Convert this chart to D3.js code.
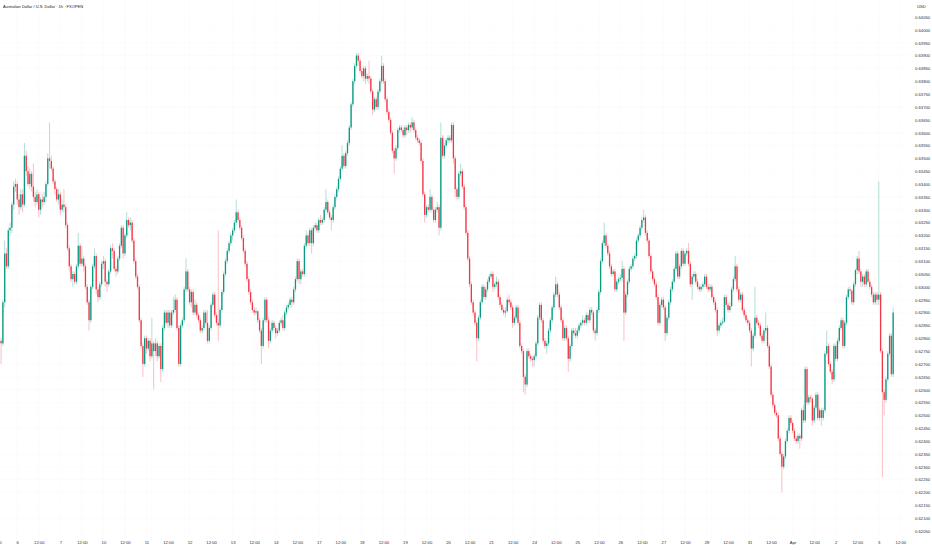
<!DOCTYPE html>
<html>
<head>
<meta charset="utf-8">
<script src="https://cdn.jsdelivr.net/npm/d3@7"></script>
<style>
  html, body { margin: 0; padding: 0; background: #fff; }
  svg { display: block; font-family: "Liberation Sans", Arial, sans-serif; }
</style>
</head>
<body>
<svg id="chart"></svg>
<script>
// Chart size
const w = 932;
const h = 550;

const title = "Australian Dollar / U.S. Dollar · 1h · FXOPEN";
const currency = "USD";

// hourly bars (oldest first)
const opens = [
  0.6279, 0.6278, 0.6294, 0.6313, 0.6308, 0.6322, 0.6323, 0.6332, 0.6339, 0.6340,
  0.6334, 0.6331, 0.6336, 0.6332, 0.6351, 0.6345, 0.6340, 0.6344, 0.6339, 0.6335,
  0.6333, 0.6336, 0.6330, 0.6334, 0.6333, 0.6335, 0.6340, 0.6350, 0.6349, 0.6346,
  0.6341, 0.6338, 0.6334, 0.6336, 0.6330, 0.6332, 0.6331, 0.6324, 0.6315, 0.6308,
  0.6303, 0.6305, 0.6302, 0.6308, 0.6316, 0.6309, 0.6311, 0.6308, 0.6300, 0.6294,
  0.6287, 0.6300, 0.6308, 0.6312, 0.6299, 0.6296, 0.6301, 0.6309, 0.6310, 0.6302,
  0.6301, 0.6306, 0.6315, 0.6314, 0.6307, 0.6306, 0.6311, 0.6316, 0.6323, 0.6313,
  0.6320, 0.6326, 0.6324, 0.6325, 0.6318, 0.6310, 0.6304, 0.6300, 0.6287, 0.6277,
  0.6270, 0.6280, 0.6276, 0.6279, 0.6273, 0.6278, 0.6275, 0.6278, 0.6273, 0.6277,
  0.6268, 0.6284, 0.6290, 0.6286, 0.6290, 0.6285, 0.6290, 0.6291, 0.6295, 0.6284,
  0.6270, 0.6285, 0.6287, 0.6299, 0.6306, 0.6299, 0.6294, 0.6298, 0.6290, 0.6293,
  0.6289, 0.6287, 0.6283, 0.6284, 0.6290, 0.6286, 0.6279, 0.6284, 0.6293, 0.6297,
  0.6289, 0.6286, 0.6285, 0.6291, 0.6298, 0.6305, 0.6310, 0.6314, 0.6317, 0.6320,
  0.6322, 0.6325, 0.6329, 0.6326, 0.6323, 0.6319, 0.6314, 0.6309, 0.6303, 0.6298,
  0.6294, 0.6291, 0.6290, 0.62905, 0.6287, 0.6283, 0.6277, 0.6287, 0.6295, 0.6287,
  0.6279, 0.6283, 0.6286, 0.6284, 0.6282, 0.6283, 0.6286, 0.6287, 0.6284, 0.6290,
  0.6292, 0.6293, 0.6295, 0.6294, 0.6299, 0.6303, 0.6310, 0.6303, 0.6306, 0.6305,
  0.6316, 0.6320, 0.6317, 0.6322, 0.6317, 0.6323, 0.6324, 0.6322, 0.6326, 0.6325,
  0.6326, 0.6330, 0.6333, 0.6329, 0.6327, 0.6326, 0.6331, 0.6335, 0.6338, 0.6342,
  0.6346, 0.6351, 0.6347, 0.6352, 0.6356, 0.6362, 0.6371, 0.6380, 0.6386, 0.6390,
  0.6388, 0.6384, 0.6382, 0.6385, 0.6381, 0.6382, 0.6381, 0.6376, 0.6369, 0.6373,
  0.6370, 0.6376, 0.6380, 0.6386, 0.6380, 0.6373, 0.6368, 0.6365, 0.6360, 0.6353,
  0.6350, 0.6354, 0.6361, 0.6362, 0.6361, 0.6359, 0.6362, 0.6361, 0.6363, 0.6362,
  0.6364, 0.6361, 0.6358, 0.6357, 0.6356, 0.6349, 0.6336, 0.6328, 0.6331, 0.6330,
  0.6335, 0.6330, 0.6326, 0.6330, 0.6331, 0.6323, 0.6358, 0.6351, 0.6355, 0.6357,
  0.6358, 0.6357, 0.6363, 0.6350, 0.6338, 0.6335, 0.6344, 0.6345, 0.6339, 0.6331,
  0.6321, 0.6311, 0.6301, 0.6294, 0.6290, 0.6286, 0.6280, 0.6288, 0.6294, 0.6300,
  0.6296, 0.6299, 0.6302, 0.6304, 0.6305, 0.6300, 0.6301, 0.6302, 0.6296, 0.6293,
  0.6291, 0.6290, 0.62905, 0.6295, 0.6294, 0.6292, 0.6286, 0.6288, 0.6292, 0.6286,
  0.6277, 0.6275, 0.6265, 0.6262, 0.6275, 0.6273, 0.6272, 0.62715, 0.6273, 0.6278,
  0.6288, 0.6293, 0.6287, 0.6279, 0.6277, 0.6278, 0.6283, 0.6287, 0.6292, 0.6297,
  0.6301, 0.6297, 0.6292, 0.6287, 0.6280, 0.6284, 0.6280, 0.6272, 0.6277, 0.6283,
  0.6282, 0.6281, 0.6283, 0.6285, 0.6286, 0.6287, 0.6286, 0.6289, 0.6287, 0.6291,
  0.6290, 0.6283, 0.6282, 0.6291, 0.6298, 0.6310, 0.6317, 0.6320, 0.6316, 0.6313,
  0.6308, 0.6305, 0.6306, 0.6299, 0.6302, 0.6303, 0.63035, 0.6307, 0.6290, 0.6297,
  0.6302, 0.6307, 0.6308, 0.6311, 0.6312, 0.6318, 0.6320, 0.6323, 0.6326, 0.6327,
  0.6321, 0.6318, 0.6312, 0.6306, 0.6303, 0.6301, 0.6296, 0.6286, 0.6293, 0.6295,
  0.6292, 0.6282, 0.6288, 0.6294, 0.6299, 0.6302, 0.6307, 0.6313, 0.6304, 0.6308,
  0.6314, 0.6309, 0.6313, 0.6314, 0.6309, 0.6301, 0.6304, 0.6305, 0.6302, 0.6300,
  0.6299, 0.6300, 0.6301, 0.6304, 0.6300, 0.6299, 0.6300, 0.6296, 0.6294, 0.6291,
  0.6283, 0.6285, 0.6286, 0.62865, 0.6296, 0.6293, 0.6291, 0.62925, 0.6299, 0.6303,
  0.6308, 0.6299, 0.6295, 0.6297, 0.6291, 0.6289, 0.6287, 0.6286, 0.6283, 0.6276,
  0.6281, 0.6288, 0.6286, 0.6285, 0.6281, 0.6279, 0.6283, 0.6284, 0.6277, 0.6269,
  0.6258, 0.6254, 0.6251, 0.6250, 0.6241, 0.6235, 0.6230, 0.6234, 0.6240, 0.6244,
  0.6249, 0.6247, 0.6244, 0.6241, 0.6240, 0.6242, 0.6241, 0.6252, 0.6248, 0.6268,
  0.6255, 0.6257, 0.62565, 0.6248, 0.6253, 0.6258, 0.6249, 0.6252, 0.6249, 0.6252,
  0.6274, 0.6277, 0.6270, 0.6267, 0.6264, 0.6277, 0.6272, 0.6279, 0.6284, 0.6287,
  0.6277, 0.6286, 0.6296, 0.6299, 0.62985, 0.6294, 0.6301, 0.63065, 0.6311, 0.6306,
  0.6302, 0.6304, 0.6301, 0.6306, 0.6302, 0.6300, 0.6297, 0.6294, 0.6297, 0.6295,
  0.6297, 0.6275, 0.6259, 0.6256, 0.6264, 0.6274, 0.6281, 0.6266
];

const highs = [
  0.6280, 0.6295, 0.6318, 0.6315, 0.6323, 0.6325, 0.6333, 0.6341, 0.6342, 0.6341,
  0.6336, 0.6338, 0.6338, 0.6356, 0.6353, 0.6347, 0.6346, 0.6345, 0.6348, 0.6337,
  0.6338, 0.6337, 0.6335, 0.6336, 0.6337, 0.6341, 0.6352, 0.6364, 0.6351, 0.6347,
  0.6342, 0.6339, 0.6338, 0.6337, 0.6334, 0.6338, 0.6332, 0.6325, 0.6316, 0.6309,
  0.6306, 0.6306, 0.6309, 0.6321, 0.6317, 0.6316, 0.6312, 0.6309, 0.6301, 0.6295,
  0.6301, 0.6309, 0.6315, 0.6313, 0.6300, 0.6302, 0.6310, 0.6312, 0.6311, 0.6303,
  0.6307, 0.6316, 0.6317, 0.6315, 0.6308, 0.6312, 0.6317, 0.6324, 0.6324, 0.6321,
  0.6329, 0.6327, 0.6327, 0.6326, 0.6319, 0.6311, 0.6305, 0.6301, 0.6288, 0.6278,
  0.6281, 0.6281, 0.6280, 0.6280, 0.6288, 0.6279, 0.6280, 0.6279, 0.6278, 0.6278,
  0.6285, 0.6291, 0.6291, 0.6291, 0.6291, 0.6291, 0.6296, 0.6297, 0.6296, 0.6285,
  0.6286, 0.6288, 0.6300, 0.6311, 0.6307, 0.6300, 0.6299, 0.6299, 0.6295, 0.6294,
  0.6290, 0.6288, 0.6285, 0.6291, 0.6291, 0.6291, 0.6285, 0.6294, 0.6298, 0.6298,
  0.6290, 0.6322, 0.6292, 0.6299, 0.6306, 0.6311, 0.6315, 0.6318, 0.6321, 0.6323,
  0.6326, 0.6334, 0.6330, 0.6327, 0.6324, 0.6320, 0.6315, 0.6310, 0.6304, 0.6299,
  0.6295, 0.6292, 0.6292, 0.6291, 0.6288, 0.6284, 0.6288, 0.6296, 0.6296, 0.6288,
  0.6284, 0.6287, 0.6287, 0.6285, 0.6284, 0.6287, 0.6288, 0.6289, 0.6291, 0.6293,
  0.6294, 0.6296, 0.6296, 0.6300, 0.6304, 0.6311, 0.6311, 0.6307, 0.6307, 0.6317,
  0.6322, 0.6321, 0.6323, 0.6323, 0.6324, 0.6325, 0.6325, 0.6327, 0.6328, 0.6327,
  0.6331, 0.6338, 0.6334, 0.6330, 0.6328, 0.6332, 0.6336, 0.6339, 0.6343, 0.6347,
  0.6355, 0.6352, 0.6353, 0.6357, 0.6363, 0.6372, 0.6381, 0.6387, 0.6391, 0.6391,
  0.6389, 0.6385, 0.6386, 0.6386, 0.6383, 0.6388, 0.6382, 0.6377, 0.6374, 0.6374,
  0.6377, 0.6381, 0.6390, 0.6387, 0.6381, 0.6374, 0.6369, 0.6366, 0.6361, 0.6354,
  0.6355, 0.6362, 0.6363, 0.6363, 0.6362, 0.6363, 0.6363, 0.6364, 0.6364, 0.6366,
  0.6365, 0.6362, 0.6359, 0.6358, 0.6357, 0.6350, 0.6337, 0.6332, 0.6332, 0.6338,
  0.6336, 0.6331, 0.6331, 0.6333, 0.6332, 0.6364, 0.6359, 0.6356, 0.6358, 0.6359,
  0.6359, 0.6364, 0.6364, 0.6351, 0.6339, 0.6345, 0.6348, 0.6346, 0.6340, 0.6332,
  0.6322, 0.6312, 0.6302, 0.6295, 0.6291, 0.6287, 0.6289, 0.6295, 0.6301, 0.6301,
  0.6300, 0.6303, 0.6305, 0.6306, 0.6306, 0.6302, 0.6304, 0.6303, 0.6297, 0.6294,
  0.6292, 0.6292, 0.6296, 0.6297, 0.6295, 0.6293, 0.6289, 0.6293, 0.6293, 0.6287,
  0.6278, 0.6276, 0.6266, 0.6276, 0.6276, 0.6274, 0.6273, 0.6274, 0.6279, 0.6289,
  0.6294, 0.6294, 0.6288, 0.6280, 0.6279, 0.6284, 0.6288, 0.6293, 0.6298, 0.6304,
  0.6302, 0.6298, 0.6293, 0.6288, 0.6285, 0.6285, 0.6281, 0.6278, 0.6284, 0.6284,
  0.6284, 0.6284, 0.6286, 0.6287, 0.6289, 0.6288, 0.6290, 0.6290, 0.6292, 0.6292,
  0.6291, 0.6284, 0.6292, 0.6299, 0.6311, 0.6318, 0.6325, 0.6321, 0.6317, 0.6314,
  0.6309, 0.6307, 0.6307, 0.6303, 0.6304, 0.6305, 0.6310, 0.6308, 0.6298, 0.6303,
  0.6308, 0.6309, 0.6312, 0.6313, 0.6319, 0.6321, 0.6324, 0.6327, 0.6330, 0.6328,
  0.6322, 0.6319, 0.6313, 0.6307, 0.6304, 0.6302, 0.6297, 0.6294, 0.6296, 0.6296,
  0.6293, 0.6289, 0.6295, 0.6300, 0.6303, 0.6308, 0.6314, 0.6314, 0.6309, 0.6315,
  0.6315, 0.6314, 0.6315, 0.6317, 0.6310, 0.6305, 0.6306, 0.6306, 0.6303, 0.6301,
  0.6301, 0.6302, 0.6305, 0.6305, 0.6301, 0.6301, 0.6301, 0.6297, 0.6295, 0.6292,
  0.6286, 0.6287, 0.6288, 0.6297, 0.6297, 0.6294, 0.6294, 0.6300, 0.6304, 0.6312,
  0.6309, 0.6300, 0.6298, 0.6298, 0.6292, 0.6290, 0.6288, 0.6287, 0.6284, 0.6282,
  0.6300, 0.6289, 0.6287, 0.6286, 0.6282, 0.6284, 0.6290, 0.6285, 0.6278, 0.6270,
  0.6259, 0.6255, 0.6252, 0.6251, 0.6242, 0.6236, 0.6235, 0.6241, 0.6245, 0.6250,
  0.6250, 0.6248, 0.6245, 0.6242, 0.6243, 0.6243, 0.6253, 0.6254, 0.6269, 0.6269,
  0.6258, 0.6258, 0.6257, 0.6254, 0.6259, 0.6259, 0.6253, 0.6253, 0.6253, 0.6275,
  0.6283, 0.6278, 0.6271, 0.6268, 0.6278, 0.6278, 0.6280, 0.6285, 0.6288, 0.6288,
  0.6287, 0.6297, 0.6300, 0.6300, 0.6299, 0.6302, 0.6307, 0.6312, 0.6314, 0.6307,
  0.6305, 0.6305, 0.6307, 0.6307, 0.6303, 0.6301, 0.6298, 0.6298, 0.6298, 0.6341,
  0.6298, 0.6276, 0.6260, 0.6265, 0.6275, 0.6282, 0.6282, 0.6292
];

const lows = [
  0.6270, 0.6277, 0.6292, 0.6307, 0.6307, 0.6320, 0.6321, 0.6330, 0.6337, 0.6332,
  0.6328, 0.6330, 0.6329, 0.6331, 0.6343, 0.6339, 0.6338, 0.6337, 0.6333, 0.6331,
  0.6332, 0.6327, 0.6328, 0.6331, 0.6332, 0.6333, 0.6339, 0.6346, 0.6345, 0.6340,
  0.6336, 0.6333, 0.6332, 0.6328, 0.6329, 0.6329, 0.6323, 0.6314, 0.6306, 0.6302,
  0.6300, 0.6301, 0.6301, 0.6307, 0.6308, 0.6308, 0.6306, 0.6299, 0.6293, 0.6283,
  0.6286, 0.6299, 0.6307, 0.6297, 0.6294, 0.6295, 0.6300, 0.6307, 0.6300, 0.6298,
  0.6300, 0.6305, 0.6311, 0.6306, 0.6304, 0.6305, 0.6310, 0.6315, 0.6311, 0.6312,
  0.6319, 0.6323, 0.6322, 0.6317, 0.6309, 0.6303, 0.6299, 0.6286, 0.6276, 0.6265,
  0.6269, 0.6274, 0.6275, 0.6271, 0.6272, 0.6260, 0.6273, 0.6271, 0.6272, 0.6263,
  0.6267, 0.6283, 0.6285, 0.6284, 0.6284, 0.6284, 0.6289, 0.6290, 0.6283, 0.6269,
  0.6269, 0.6284, 0.6286, 0.6298, 0.6298, 0.6293, 0.6292, 0.6289, 0.6289, 0.6288,
  0.6286, 0.6282, 0.6282, 0.6283, 0.6285, 0.6278, 0.6278, 0.6283, 0.6292, 0.6288,
  0.6285, 0.6279, 0.6284, 0.6290, 0.6297, 0.6304, 0.6309, 0.6313, 0.6316, 0.6318,
  0.6321, 0.6324, 0.6325, 0.6322, 0.6318, 0.6313, 0.6308, 0.6302, 0.6297, 0.6293,
  0.6290, 0.6289, 0.6289, 0.6286, 0.6282, 0.6270, 0.6276, 0.6286, 0.6286, 0.6276,
  0.6278, 0.6282, 0.6283, 0.6280, 0.6281, 0.6282, 0.6285, 0.6283, 0.6283, 0.6289,
  0.6291, 0.6292, 0.6292, 0.6293, 0.6298, 0.6302, 0.6301, 0.6301, 0.6304, 0.6304,
  0.6315, 0.6316, 0.6316, 0.6313, 0.6316, 0.6322, 0.6321, 0.6321, 0.6324, 0.6324,
  0.6325, 0.6329, 0.6328, 0.6326, 0.6322, 0.6325, 0.6330, 0.6334, 0.6337, 0.6341,
  0.6345, 0.6346, 0.6346, 0.6351, 0.6355, 0.6361, 0.6370, 0.6379, 0.6385, 0.6386,
  0.6383, 0.6381, 0.6380, 0.6379, 0.6380, 0.6379, 0.6375, 0.6367, 0.6368, 0.6369,
  0.6369, 0.6375, 0.6379, 0.6379, 0.6372, 0.6367, 0.6364, 0.6359, 0.6352, 0.6344,
  0.6349, 0.6353, 0.6360, 0.6360, 0.6358, 0.6358, 0.6359, 0.6360, 0.6360, 0.6361,
  0.6360, 0.6357, 0.6356, 0.6355, 0.6348, 0.6335, 0.6325, 0.6327, 0.6329, 0.6329,
  0.6329, 0.6325, 0.6325, 0.6329, 0.6320, 0.6322, 0.6350, 0.6350, 0.6354, 0.6356,
  0.6356, 0.6356, 0.6348, 0.6335, 0.6334, 0.6334, 0.6343, 0.6338, 0.6330, 0.6320,
  0.6310, 0.6300, 0.6293, 0.6289, 0.6285, 0.6271, 0.6279, 0.6287, 0.6293, 0.6295,
  0.6295, 0.6298, 0.6301, 0.6303, 0.6298, 0.6299, 0.6300, 0.6295, 0.6292, 0.6290,
  0.6289, 0.6288, 0.6290, 0.6293, 0.6291, 0.6284, 0.6285, 0.6287, 0.6285, 0.6276,
  0.6274, 0.6259, 0.6258, 0.6261, 0.6272, 0.6271, 0.6269, 0.6269, 0.6272, 0.6277,
  0.6287, 0.6286, 0.6278, 0.6276, 0.6274, 0.6277, 0.6282, 0.6286, 0.6291, 0.6296,
  0.6296, 0.6291, 0.6286, 0.6279, 0.6279, 0.6279, 0.6267, 0.6271, 0.6276, 0.6281,
  0.6280, 0.6280, 0.6282, 0.6284, 0.6285, 0.6285, 0.6285, 0.6286, 0.6286, 0.6289,
  0.6282, 0.6279, 0.6281, 0.6290, 0.6297, 0.6309, 0.6316, 0.6315, 0.6312, 0.6307,
  0.6304, 0.6304, 0.6298, 0.6298, 0.6301, 0.6302, 0.6302, 0.6279, 0.6289, 0.6296,
  0.6301, 0.6306, 0.6307, 0.6310, 0.6311, 0.6317, 0.6319, 0.6322, 0.6325, 0.6320,
  0.6317, 0.6311, 0.6305, 0.6302, 0.6300, 0.6295, 0.6285, 0.6285, 0.6292, 0.6291,
  0.6279, 0.6281, 0.6287, 0.6293, 0.6298, 0.6301, 0.6306, 0.6303, 0.6303, 0.6307,
  0.6308, 0.6308, 0.6312, 0.6308, 0.6300, 0.6295, 0.6303, 0.6301, 0.6299, 0.6298,
  0.6298, 0.6299, 0.6300, 0.6299, 0.6298, 0.6298, 0.6295, 0.6293, 0.6290, 0.6281,
  0.6282, 0.6284, 0.6285, 0.6286, 0.6292, 0.6290, 0.6290, 0.6292, 0.6298, 0.6302,
  0.6298, 0.6294, 0.6294, 0.6290, 0.6288, 0.6286, 0.6285, 0.6282, 0.6269, 0.6275,
  0.6280, 0.6285, 0.6284, 0.6280, 0.6278, 0.6278, 0.6282, 0.6276, 0.6268, 0.6257,
  0.6253, 0.6250, 0.6249, 0.6240, 0.6234, 0.6220, 0.6229, 0.6233, 0.6239, 0.6243,
  0.6246, 0.6243, 0.6240, 0.6239, 0.6239, 0.6237, 0.6240, 0.6247, 0.6247, 0.6254,
  0.6254, 0.6255, 0.6246, 0.6247, 0.6252, 0.6248, 0.6248, 0.6246, 0.6248, 0.6251,
  0.6273, 0.6269, 0.6266, 0.6262, 0.6263, 0.6271, 0.6271, 0.6278, 0.6283, 0.6276,
  0.6276, 0.6285, 0.6295, 0.6297, 0.6293, 0.6293, 0.6300, 0.6305, 0.6305, 0.6300,
  0.6300, 0.6300, 0.6300, 0.6301, 0.6299, 0.6296, 0.6293, 0.6293, 0.6293, 0.6293,
  0.6274, 0.6226, 0.6250, 0.6255, 0.6263, 0.6273, 0.6265, 0.6265
];

const closes = [
  0.6278, 0.6294, 0.6313, 0.6308, 0.6322, 0.6323, 0.6332, 0.6339, 0.6340, 0.6334,
  0.6331, 0.6336, 0.6332, 0.6351, 0.6345, 0.6340, 0.6344, 0.6339, 0.6335, 0.6333,
  0.6336, 0.6330, 0.6334, 0.6333, 0.6335, 0.6340, 0.6350, 0.6349, 0.6346, 0.6341,
  0.6338, 0.6334, 0.6336, 0.6330, 0.6332, 0.6331, 0.6324, 0.6315, 0.6308, 0.6303,
  0.6305, 0.6302, 0.6308, 0.6316, 0.6309, 0.6311, 0.6308, 0.6300, 0.6294, 0.6287,
  0.6300, 0.6308, 0.6312, 0.6299, 0.6296, 0.6301, 0.6309, 0.6310, 0.6302, 0.6301,
  0.6306, 0.6315, 0.6314, 0.6307, 0.6306, 0.6311, 0.6316, 0.6323, 0.6313, 0.6320,
  0.6326, 0.6324, 0.6325, 0.6318, 0.6310, 0.6304, 0.6300, 0.6287, 0.6277, 0.6270,
  0.6280, 0.6276, 0.6279, 0.6273, 0.6278, 0.6275, 0.6278, 0.6273, 0.6277, 0.6268,
  0.6284, 0.6290, 0.6286, 0.6290, 0.6285, 0.6290, 0.6291, 0.6295, 0.6284, 0.6270,
  0.6285, 0.6287, 0.6299, 0.6306, 0.6299, 0.6294, 0.6298, 0.6290, 0.6293, 0.6289,
  0.6287, 0.6283, 0.6284, 0.6290, 0.6286, 0.6279, 0.6284, 0.6293, 0.6297, 0.6289,
  0.6286, 0.6285, 0.6291, 0.6298, 0.6305, 0.6310, 0.6314, 0.6317, 0.6320, 0.6322,
  0.6325, 0.6329, 0.6326, 0.6323, 0.6319, 0.6314, 0.6309, 0.6303, 0.6298, 0.6294,
  0.6291, 0.6290, 0.62905, 0.6287, 0.6283, 0.6277, 0.6287, 0.6295, 0.6287, 0.6279,
  0.6283, 0.6286, 0.6284, 0.6282, 0.6283, 0.6286, 0.6287, 0.6284, 0.6290, 0.6292,
  0.6293, 0.6295, 0.6294, 0.6299, 0.6303, 0.6310, 0.6303, 0.6306, 0.6305, 0.6316,
  0.6320, 0.6317, 0.6322, 0.6317, 0.6323, 0.6324, 0.6322, 0.6326, 0.6325, 0.6326,
  0.6330, 0.6333, 0.6329, 0.6327, 0.6326, 0.6331, 0.6335, 0.6338, 0.6342, 0.6346,
  0.6351, 0.6347, 0.6352, 0.6356, 0.6362, 0.6371, 0.6380, 0.6386, 0.6390, 0.6388,
  0.6384, 0.6382, 0.6385, 0.6381, 0.6382, 0.6381, 0.6376, 0.6369, 0.6373, 0.6370,
  0.6376, 0.6380, 0.6386, 0.6380, 0.6373, 0.6368, 0.6365, 0.6360, 0.6353, 0.6350,
  0.6354, 0.6361, 0.6362, 0.6361, 0.6359, 0.6362, 0.6361, 0.6363, 0.6362, 0.6364,
  0.6361, 0.6358, 0.6357, 0.6356, 0.6349, 0.6336, 0.6328, 0.6331, 0.6330, 0.6335,
  0.6330, 0.6326, 0.6330, 0.6331, 0.6323, 0.6358, 0.6351, 0.6355, 0.6357, 0.6358,
  0.6357, 0.6363, 0.6350, 0.6338, 0.6335, 0.6344, 0.6345, 0.6339, 0.6331, 0.6321,
  0.6311, 0.6301, 0.6294, 0.6290, 0.6286, 0.6280, 0.6288, 0.6294, 0.6300, 0.6296,
  0.6299, 0.6302, 0.6304, 0.6305, 0.6300, 0.6301, 0.6302, 0.6296, 0.6293, 0.6291,
  0.6290, 0.62905, 0.6295, 0.6294, 0.6292, 0.6286, 0.6288, 0.6292, 0.6286, 0.6277,
  0.6275, 0.6265, 0.6262, 0.6275, 0.6273, 0.6272, 0.62715, 0.6273, 0.6278, 0.6288,
  0.6293, 0.6287, 0.6279, 0.6277, 0.6278, 0.6283, 0.6287, 0.6292, 0.6297, 0.6301,
  0.6297, 0.6292, 0.6287, 0.6280, 0.6284, 0.6280, 0.6272, 0.6277, 0.6283, 0.6282,
  0.6281, 0.6283, 0.6285, 0.6286, 0.6287, 0.6286, 0.6289, 0.6287, 0.6291, 0.6290,
  0.6283, 0.6282, 0.6291, 0.6298, 0.6310, 0.6317, 0.6320, 0.6316, 0.6313, 0.6308,
  0.6305, 0.6306, 0.6299, 0.6302, 0.6303, 0.63035, 0.6307, 0.6290, 0.6297, 0.6302,
  0.6307, 0.6308, 0.6311, 0.6312, 0.6318, 0.6320, 0.6323, 0.6326, 0.6327, 0.6321,
  0.6318, 0.6312, 0.6306, 0.6303, 0.6301, 0.6296, 0.6286, 0.6293, 0.6295, 0.6292,
  0.6282, 0.6288, 0.6294, 0.6299, 0.6302, 0.6307, 0.6313, 0.6304, 0.6308, 0.6314,
  0.6309, 0.6313, 0.6314, 0.6309, 0.6301, 0.6304, 0.6305, 0.6302, 0.6300, 0.6299,
  0.6300, 0.6301, 0.6304, 0.6300, 0.6299, 0.6300, 0.6296, 0.6294, 0.6291, 0.6283,
  0.6285, 0.6286, 0.62865, 0.6296, 0.6293, 0.6291, 0.62925, 0.6299, 0.6303, 0.6308,
  0.6299, 0.6295, 0.6297, 0.6291, 0.6289, 0.6287, 0.6286, 0.6283, 0.6276, 0.6281,
  0.6288, 0.6286, 0.6285, 0.6281, 0.6279, 0.6283, 0.6284, 0.6277, 0.6269, 0.6258,
  0.6254, 0.6251, 0.6250, 0.6241, 0.6235, 0.6230, 0.6234, 0.6240, 0.6244, 0.6249,
  0.6247, 0.6244, 0.6241, 0.6240, 0.6242, 0.6241, 0.6252, 0.6248, 0.6268, 0.6255,
  0.6257, 0.62565, 0.6248, 0.6253, 0.6258, 0.6249, 0.6252, 0.6249, 0.6252, 0.6274,
  0.6277, 0.6270, 0.6267, 0.6264, 0.6277, 0.6272, 0.6279, 0.6284, 0.6287, 0.6277,
  0.6286, 0.6296, 0.6299, 0.62985, 0.6294, 0.6301, 0.63065, 0.6311, 0.6306, 0.6302,
  0.6304, 0.6301, 0.6306, 0.6302, 0.6300, 0.6297, 0.6294, 0.6297, 0.6295, 0.6297,
  0.6275, 0.6259, 0.6256, 0.6264, 0.6274, 0.6281, 0.6266, 0.6290
];

// time axis: label every 12 bars (bar index -> text)
const xTickBars = [-3, 9, 21, 33, 45, 57, 69, 81, 93, 105, 117, 129, 141, 153, 165,
  177, 189, 201, 213, 225, 237, 249, 261, 273, 285, 297, 309, 321, 333, 345, 357,
  369, 381, 393, 405, 417, 429, 441, 453, 465, 477, 489, 501];
const xTickLabels = ["12:00", "6", "12:00", "7", "12:00", "10", "12:00", "11", "12:00",
  "12", "12:00", "13", "12:00", "14", "12:00", "17", "12:00", "18", "12:00", "19",
  "12:00", "20", "12:00", "21", "12:00", "24", "12:00", "25", "12:00", "26", "12:00",
  "27", "12:00", "28", "12:00", "31", "12:00", "Apr", "12:00", "2", "12:00", "3", "12:00"];

// price range shown on the right scale
const priceMin = 0.6205;
const priceMax = 0.6405;

// =========================
// LAYOUT
// =========================
const plotRight = 905;
const plotTop = 17;
const plotBottom = 531;
const upColor = "#089981";
const downColor = "#f23645";
const textColor = "#2a2e39";

const svg = d3.select("#chart")
  .attr("width", w)
  .attr("height", h);

svg.append("rect")
  .attr("width", w)
  .attr("height", h)
  .attr("fill", "#ffffff");

const bars = closes.map((c, i) => ({
  i,
  open: opens[i],
  high: highs[i],
  low: lows[i],
  close: c
}));

const xScale = d3.scaleLinear()
  .domain([-0.61, 503.6])
  .range([0, plotRight]);

const yScale = d3.scaleLinear()
  .domain([priceMin, priceMax])
  .range([plotBottom, plotTop]);

const yTicks = yScale.ticks(40);

// very faint grid (barely visible in the original)
const grid = svg.append("g").attr("class", "grid");
grid.selectAll(".vgrid")
  .data(xTickBars)
  .join("line")
  .attr("x1", d => xScale(d))
  .attr("x2", d => xScale(d))
  .attr("y1", 0)
  .attr("y2", 536)
  .attr("stroke", "#f8f9fb")
  .attr("stroke-width", 0.5);
grid.selectAll(".hgrid")
  .data(yTicks)
  .join("line")
  .attr("x1", 0)
  .attr("x2", 910)
  .attr("y1", d => yScale(d))
  .attr("y2", d => yScale(d))
  .attr("stroke", "#f8f9fb")
  .attr("stroke-width", 0.5);

// =========================
// CANDLES
// =========================
const candles = svg.append("g").attr("class", "candles");

candles.selectAll(".wick")
  .data(bars)
  .join("line")
  .attr("class", "wick")
  .attr("x1", d => xScale(d.i))
  .attr("x2", d => xScale(d.i))
  .attr("y1", d => yScale(d.high))
  .attr("y2", d => yScale(d.low))
  .attr("stroke", d => d.close >= d.open ? upColor : downColor)
  .attr("stroke-opacity", 0.45)
  .attr("stroke-width", 0.7);

const bodyW = 1.3;
candles.selectAll(".body")
  .data(bars)
  .join("rect")
  .attr("class", "body")
  .attr("x", d => xScale(d.i) - bodyW / 2)
  .attr("width", bodyW)
  .attr("y", d => yScale(Math.max(d.open, d.close)))
  .attr("height", d => Math.max(0.6, Math.abs(yScale(d.open) - yScale(d.close))))
  .attr("fill", d => d.close >= d.open ? upColor : downColor);

// =========================
// AXES
// =========================
const yAxis = d3.axisRight(yScale)
  .tickValues(yTicks)
  .tickSize(0)
  .tickPadding(0)
  .tickFormat(d3.format(".5f"));

const yAxisG = svg.append("g")
  .attr("transform", "translate(915,0)")
  .call(yAxis);
yAxisG.select(".domain").remove();
yAxisG.selectAll("text")
  .attr("font-size", 4.2)
  .attr("font-family", "Liberation Sans, Arial, sans-serif")
  .attr("fill", textColor);

const xAxis = d3.axisBottom(xScale)
  .tickValues(xTickBars)
  .tickSize(0)
  .tickPadding(0)
  .tickFormat((d, i) => xTickLabels[i]);

const xAxisG = svg.append("g")
  .attr("transform", "translate(0,541)")
  .call(xAxis);
xAxisG.select(".domain").remove();
xAxisG.selectAll("text")
  .attr("font-size", 4.2)
  .attr("font-family", "Liberation Sans, Arial, sans-serif")
  .attr("fill", textColor);

// =========================
// LABELS
// =========================
svg.append("text")
  .attr("x", 3)
  .attr("y", 7.5)
  .attr("font-size", 4)
  .attr("fill", "#131722")
  .text(title);

svg.append("text")
  .attr("x", 917)
  .attr("y", 7.5)
  .attr("font-size", 4.2)
  .attr("fill", textColor)
  .text(currency);
</script>
</body>
</html>
